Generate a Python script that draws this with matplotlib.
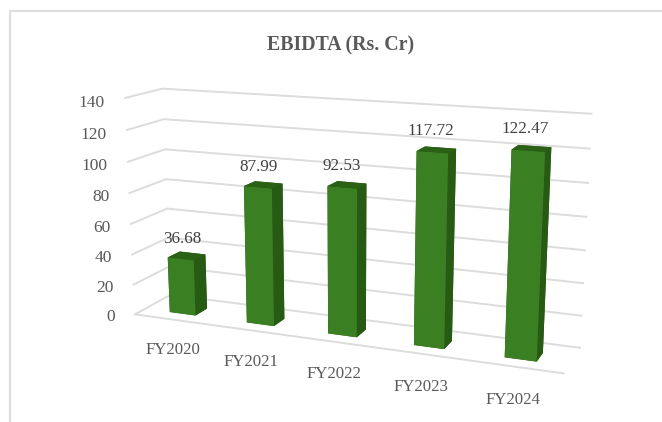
import matplotlib
matplotlib.use('Agg')
import matplotlib.pyplot as plt
from matplotlib.lines import Line2D
from mpl_toolkits.mplot3d import proj3d

# Datos del grafico
categories = ['FY2020', 'FY2021', 'FY2022', 'FY2023', 'FY2024']
values = [36.68, 87.99, 92.53, 117.72, 122.47]
value_labels = ['36.68', '87.99', '92.53', '117.72', '122.47']
y_ticks = [0, 20, 40, 60, 80, 100, 120, 140]

plt.rcParams['font.family'] = 'Liberation Serif'
GRID = '#dcdcdc'
TXT = '#595959'

W, H = 662, 422
fig = plt.figure(figsize=(W / 100, H / 100), dpi=100)
# ejes cuadrados mas grandes que la figura para que no se recorte nada
side = 700
dx, dy = 8, -19
ax = fig.add_axes([((W - side) / 2 + dx) / W, ((H - side) / 2 + dy) / H, side / W, side / H], projection='3d')
ax.set_proj_type('persp', focal_length=0.32)
ax.view_init(elev=14, azim=-68)
ax.set_box_aspect((445, 72, 224), zoom=0.722)
ax.set_axis_off()
ax.set_xticks([])
ax.set_yticks([])
ax.set_zticks([])

n = len(categories)
ax.set_xlim(0, n)
ax.set_ylim(0, 1)
ax.set_zlim(0, 140)


def label(x, y, z, s, **kw):
    # texto 2D colocado en el punto proyectado
    px, py, _ = proj3d.proj_transform(x, y, z, ax.get_proj())
    ax.text2D(px, py, s, transform=ax.transData, ha=kw.pop('ha', 'center'), va='center', **kw)


# Rejilla: pared lateral y pared del fondo
for t in y_ticks:
    ax.plot([0, 0, n], [0, 1, 1], [t, t, t], color=GRID, lw=1.4, zorder=1)
    label(-0.27, 0, t - 4, str(t), ha='right', fontsize=12.5, color=TXT)
ax.plot([0, n], [0, 0], [0, 0], color=GRID, lw=1.4, zorder=1)

# Barras 3D
bw = 0.34
bd = 0.34
for i, v in enumerate(values):
    x0 = i + 0.5 - bw / 2
    ax.bar3d(x0, 0.28, 0, bw, bd, v, shade=False,
             color=['#2b6114', '#2b6114', '#3b7f23', '#275a12', '#275a12', '#275a12'],
             zorder=3)
    label(i + 0.42, 0.5, v + 10.5, value_labels[i], fontsize=12.3, color='#404040', zorder=5)
    label(i + 0.49, 0, -20.5, categories[i], fontsize=12.1, color=TXT, zorder=5)

fig.text(341 / W, 1 - 45 / H, 'EBIDTA (Rs. Cr)', ha='center', va='center',
         fontsize=14.3, fontweight='bold', color='#595959')

# Borde del recuadro
fig.add_artist(Line2D([9.5 / W, 9.5 / W, 1], [0, 1 - 11 / H, 1 - 11 / H],
                      color='#dedede', lw=1.6))

fig.savefig('out.png', dpi=100)
